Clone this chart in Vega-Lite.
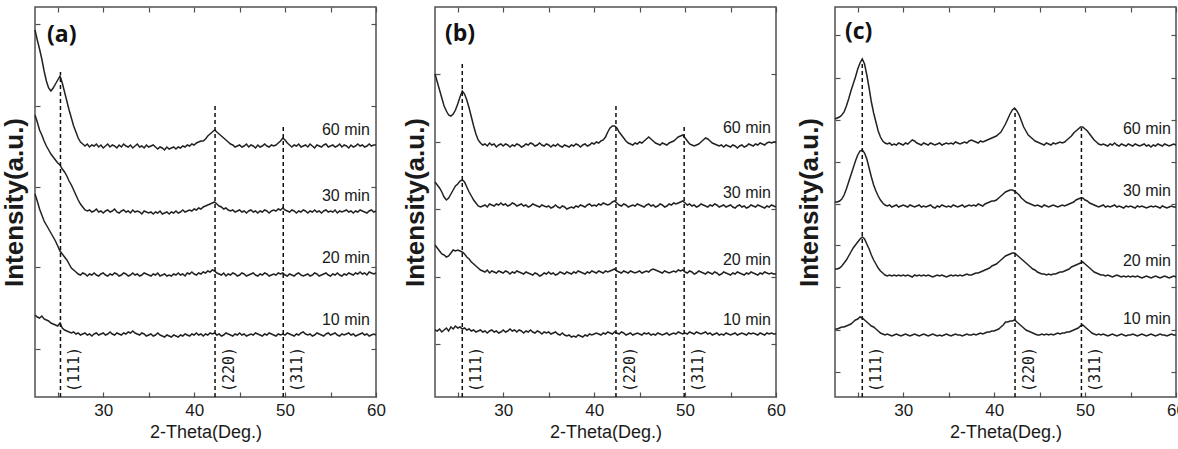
{
  "$schema": "https://vega.github.io/schema/vega-lite/v6.json",
  "padding": {"left": 0, "top": 5, "right": 5, "bottom": 0},
  "background": "white",
  "spacing": 59,
  "bounds": "flush",
  "config": {
    "view": {"stroke": "#505050", "strokeWidth": 1.5},
    "axis": {
      "domain": false, "grid": false, "ticks": true,
      "tickColor": "#505050", "tickSize": -5, "tickWidth": 1.2,
      "labelFont": "Liberation Sans", "labelFontSize": 17, "labelColor": "#1a1a1a", "labelPadding": 10,
      "titleFont": "Liberation Sans", "titleFontSize": 18, "titleFontWeight": "normal", "titleColor": "#1a1a1a"
    },
    "axisX": {"labelFlush": false, "titlePadding": 5},
    "axisY": {"titleFont": "Liberation Sans", "titleFontSize": 26, "titleFontWeight": "bold", "titlePadding": 7},
    "title": {"font": "Open Sans", "fontSize": 23, "fontWeight": "bold", "color": "#111"}
  },
  "datasets": {
    "scans": [
      {"panel": "a",
       "x": [22.5,22.75,23,23.25,23.5,23.75,24,24.25,24.5,24.75,25,25.25,25.5,25.75,26,26.25,26.5,26.75,27,27.25,27.5,27.75,28,28.25,28.5,28.75,29,29.25,29.5,29.75,30,30.25,30.5,30.75,31,31.25,31.5,31.75,32,32.25,32.5,32.75,33,33.25,33.5,33.75,34,34.25,34.5,34.75,35,35.25,35.5,35.75,36,36.25,36.5,36.75,37,37.25,37.5,37.75,38,38.25,38.5,38.75,39,39.25,39.5,39.75,40,40.25,40.5,40.75,41,41.25,41.5,41.75,42,42.25,42.5,42.75,43,43.25,43.5,43.75,44,44.25,44.5,44.75,45,45.25,45.5,45.75,46,46.25,46.5,46.75,47,47.25,47.5,47.75,48,48.25,48.5,48.75,49,49.25,49.5,49.75,50,50.25,50.5,50.75,51,51.25,51.5,51.75,52,52.25,52.5,52.75,53,53.25,53.5,53.75,54,54.25,54.5,54.75,55,55.25,55.5,55.75,56,56.25,56.5,56.75,57,57.25,57.5,57.75,58,58.25,58.5,58.75,59,59.25,59.5,59.75,60],
       "10 min": [82,80,79,81,78,77,76,74,73,72,71,74,69,67,66,65,64,65,63,64,62,63,64,62,63,61,63,64,62,63,64,62,63,65,63,62,64,63,62,64,63,65,64,66,64,63,62,64,63,61,62,63,61,62,64,62,61,60,62,61,60,62,61,60,62,61,63,62,61,63,62,64,62,63,61,63,62,64,63,64,62,63,61,62,64,63,62,61,63,62,64,62,63,61,62,63,62,64,63,62,61,63,62,64,63,62,61,63,62,63,62,64,63,62,61,63,62,64,65,63,62,63,61,62,64,63,62,61,63,64,62,63,64,62,61,63,62,63,64,62,63,61,62,63,64,62,63,61,62,63,62],
       "20 min": [203,196,188,182,176,172,168,164,160,156,151,146,143,140,137,133,129,127,125,123,122,124,123,121,123,122,124,122,121,123,124,122,121,123,122,124,123,121,122,124,123,121,122,124,122,123,121,122,124,123,122,121,123,122,124,121,122,123,121,122,121,123,122,124,122,123,121,124,123,125,123,122,124,123,125,124,126,125,127,126,124,123,122,124,121,123,122,124,123,121,122,124,123,121,122,123,124,122,121,123,122,124,123,121,122,123,122,124,123,124,122,121,123,122,121,123,124,122,121,122,123,121,122,124,123,121,122,123,124,122,121,123,122,124,122,121,123,122,124,123,122,124,123,125,123,124,122,125,124,123,124],
       "30 min": [282,275,267,262,256,251,247,243,240,237,234,232,228,225,221,216,212,207,202,197,193,190,187,186,187,185,186,188,185,186,184,186,187,185,186,188,185,184,186,187,185,186,184,187,185,186,185,183,186,185,184,185,183,185,184,186,183,184,185,183,185,184,186,184,185,187,185,186,187,186,188,187,189,188,190,191,192,193,194,195,193,191,190,188,189,187,186,187,185,186,187,185,186,184,186,187,185,186,184,186,185,187,186,184,186,187,186,188,187,189,187,186,185,187,186,184,186,185,187,186,184,186,185,187,185,186,184,186,187,185,186,185,187,184,186,185,186,187,185,186,184,186,185,187,186,185,184,186,187,185,186],
       "60 min": [367,357,348,338,326,316,309,306,309,313,317,321,314,305,296,287,279,271,265,259,255,253,251,253,250,252,251,253,250,252,249,251,253,250,252,251,249,252,250,253,251,250,252,249,251,253,250,251,249,252,250,251,252,250,248,250,249,247,250,248,249,250,248,250,249,251,250,252,251,253,252,254,255,256,256,258,261,263,265,267,265,263,261,259,257,255,253,252,250,251,252,250,251,253,250,252,251,249,252,250,251,253,251,250,252,251,252,254,256,259,257,254,252,250,252,251,253,250,251,252,250,253,251,249,252,251,250,252,253,250,251,252,250,251,253,250,252,251,249,252,250,251,253,251,252,250,251,253,251,252,252]},
      {"panel": "b",
       "x": [22.5,22.75,23,23.25,23.5,23.75,24,24.25,24.5,24.75,25,25.25,25.5,25.75,26,26.25,26.5,26.75,27,27.25,27.5,27.75,28,28.25,28.5,28.75,29,29.25,29.5,29.75,30,30.25,30.5,30.75,31,31.25,31.5,31.75,32,32.25,32.5,32.75,33,33.25,33.5,33.75,34,34.25,34.5,34.75,35,35.25,35.5,35.75,36,36.25,36.5,36.75,37,37.25,37.5,37.75,38,38.25,38.5,38.75,39,39.25,39.5,39.75,40,40.25,40.5,40.75,41,41.25,41.5,41.75,42,42.25,42.5,42.75,43,43.25,43.5,43.75,44,44.25,44.5,44.75,45,45.25,45.5,45.75,46,46.25,46.5,46.75,47,47.25,47.5,47.75,48,48.25,48.5,48.75,49,49.25,49.5,49.75,50,50.25,50.5,50.75,51,51.25,51.5,51.75,52,52.25,52.5,52.75,53,53.25,53.5,53.75,54,54.25,54.5,54.75,55,55.25,55.5,55.75,56,56.25,56.5,56.75,57,57.25,57.5,57.75,58,58.25,58.5,58.75,59,59.25,59.5,59.75,60],
       "10 min": [67,66,68,65,67,69,66,70,68,71,69,70,68,69,67,68,66,67,65,66,67,65,66,64,66,67,65,66,64,65,67,65,66,68,66,67,65,67,66,64,66,65,67,65,64,66,65,63,65,64,65,63,64,65,63,62,64,62,61,62,60,61,60,62,61,60,62,61,63,62,63,64,63,62,64,63,65,64,63,65,64,63,65,64,62,63,64,62,63,64,63,62,64,63,64,62,63,62,64,63,62,63,64,62,63,64,63,65,64,63,64,63,65,64,63,65,64,63,64,65,63,64,62,63,64,62,63,62,64,63,62,63,64,62,63,64,63,62,64,63,64,63,62,64,63,62,64,63,64,63,63],
       "20 min": [152,149,146,143,142,140,141,144,147,146,147,146,145,143,140,138,135,133,131,129,127,126,125,127,124,126,125,124,126,125,124,126,125,123,125,124,126,125,124,123,125,124,123,122,124,123,121,122,124,123,125,123,124,122,123,125,124,123,125,124,123,125,124,126,125,124,123,125,124,126,125,124,126,125,124,126,125,126,127,128,126,125,124,126,125,124,126,125,124,125,126,124,125,126,125,127,128,127,126,125,124,126,125,124,125,126,125,127,126,127,125,124,126,125,123,124,126,125,124,123,125,124,123,125,124,122,123,125,124,123,122,124,123,125,124,123,122,124,123,125,124,123,122,124,123,125,124,123,124,123,123],
       "30 min": [215,212,209,205,200,197,199,203,207,211,213,216,217,215,210,205,201,197,194,191,190,191,192,190,193,192,191,193,192,194,192,193,191,192,194,193,191,192,193,191,192,190,191,193,192,191,190,192,191,190,191,189,190,192,190,189,191,190,188,189,190,189,191,190,192,191,190,192,193,191,192,191,193,192,194,193,192,193,195,196,194,192,191,193,192,190,191,192,191,193,192,191,190,192,193,191,192,190,191,193,192,190,191,193,192,194,193,194,195,196,194,192,193,191,192,190,191,193,192,191,190,192,191,193,192,190,191,192,190,191,192,190,189,191,192,190,191,189,190,192,191,190,192,191,190,189,191,190,192,191,190],
       "60 min": [323,315,307,299,291,286,282,281,283,287,293,300,306,303,297,289,280,271,263,257,254,252,253,251,254,252,253,250,252,253,251,253,252,250,252,251,253,252,250,251,253,252,254,253,251,252,254,252,251,253,252,250,252,251,253,251,250,252,251,250,252,251,253,252,250,252,253,251,252,254,253,255,254,256,257,260,265,269,271,271,269,265,262,259,256,254,253,252,254,253,255,254,256,258,260,258,256,254,253,252,254,253,252,254,255,256,258,260,261,262,259,256,253,252,251,252,253,255,257,259,258,256,254,253,252,251,252,250,252,251,250,252,251,249,251,252,250,251,253,252,251,253,252,254,253,252,254,255,254,255,255]},
      {"panel": "c",
       "x": [22.5,22.75,23,23.25,23.5,23.75,24,24.25,24.5,24.75,25,25.25,25.5,25.75,26,26.25,26.5,26.75,27,27.25,27.5,27.75,28,28.25,28.5,28.75,29,29.25,29.5,29.75,30,30.25,30.5,30.75,31,31.25,31.5,31.75,32,32.25,32.5,32.75,33,33.25,33.5,33.75,34,34.25,34.5,34.75,35,35.25,35.5,35.75,36,36.25,36.5,36.75,37,37.25,37.5,37.75,38,38.25,38.5,38.75,39,39.25,39.5,39.75,40,40.25,40.5,40.75,41,41.25,41.5,41.75,42,42.25,42.5,42.75,43,43.25,43.5,43.75,44,44.25,44.5,44.75,45,45.25,45.5,45.75,46,46.25,46.5,46.75,47,47.25,47.5,47.75,48,48.25,48.5,48.75,49,49.25,49.5,49.75,50,50.25,50.5,50.75,51,51.25,51.5,51.75,52,52.25,52.5,52.75,53,53.25,53.5,53.75,54,54.25,54.5,54.75,55,55.25,55.5,55.75,56,56.25,56.5,56.75,57,57.25,57.5,57.75,58,58.25,58.5,58.75,59,59.25,59.5,59.75,60],
       "10 min": [68,68,69,70,70,71,72,73,75,77,78,80,79,77,75,73,71,70,68,66,64,63,62,63,62,61,62,63,62,61,62,63,62,61,62,63,62,61,62,63,62,61,62,63,62,61,62,61,62,63,62,61,62,63,62,62,61,62,63,62,62,63,62,63,64,63,64,65,65,66,66,67,68,70,72,75,75,76,76,77,75,73,71,69,67,66,65,64,63,62,62,63,62,63,62,63,62,63,64,63,64,64,65,65,66,67,68,69,71,72,70,68,66,64,63,62,63,62,63,62,61,62,63,62,61,62,63,62,61,62,62,63,62,61,62,63,62,61,62,63,62,61,62,63,62,62,61,62,63,62,62],
       "20 min": [128,128,129,131,134,137,141,145,149,152,155,158,160,158,153,148,142,137,133,129,126,124,122,121,122,121,122,121,122,121,122,121,122,121,120,122,121,122,121,122,121,122,121,120,121,122,121,122,121,120,121,122,121,122,121,122,121,122,123,122,122,123,124,124,125,126,127,128,129,131,132,133,135,137,139,141,142,143,144,144,142,140,138,136,134,132,130,128,127,125,124,123,123,122,123,122,123,123,124,125,125,126,127,128,130,131,132,133,134,135,133,131,129,127,125,124,123,122,122,121,122,121,120,121,122,121,120,121,120,121,120,121,120,121,120,119,120,121,120,119,120,121,120,119,120,121,120,119,120,121,120],
       "30 min": [195,195,196,198,202,208,215,222,229,236,242,246,247,244,238,229,220,212,206,201,197,194,192,191,192,190,191,192,190,191,192,191,190,192,191,190,191,192,190,191,190,191,192,190,189,191,190,192,191,190,191,190,192,191,190,191,192,190,191,192,191,192,191,193,192,191,193,194,195,196,196,197,199,201,203,205,206,207,207,206,204,202,199,197,195,194,193,192,191,192,191,190,192,191,190,191,192,191,190,191,192,191,192,193,194,195,197,198,199,199,197,196,194,193,192,191,190,191,192,190,191,190,191,192,190,191,190,189,191,190,191,190,189,191,190,191,190,189,190,191,190,191,190,189,191,190,189,190,191,190,190],
       "60 min": [278,279,280,282,285,291,298,306,313,320,328,334,338,333,322,309,295,284,275,266,260,256,254,253,254,252,253,252,254,253,252,254,253,255,257,256,254,253,252,254,253,252,254,253,252,253,254,252,253,254,253,254,253,255,254,253,254,255,254,256,257,256,255,254,256,255,256,257,258,259,260,261,263,265,269,273,278,283,287,289,286,282,276,270,266,262,260,258,256,255,254,253,252,254,253,252,254,253,254,255,254,255,257,259,261,264,266,268,270,270,268,266,263,260,257,255,253,252,253,252,251,253,252,254,252,251,253,252,251,253,252,251,253,252,251,252,253,251,252,250,252,251,253,252,251,253,252,251,252,253,252]}
    ],
    "hkl": [
      {"panel": "a", "plane": "(111)", "x": 25.3, "base": 0, "top": 325},
      {"panel": "a", "plane": "(220)", "x": 42.3, "base": 0, "top": 292},
      {"panel": "a", "plane": "(311)", "x": 49.8, "base": 0, "top": 270},
      {"panel": "b", "plane": "(111)", "x": 25.5, "base": 0, "top": 333},
      {"panel": "b", "plane": "(220)", "x": 42.4, "base": 0, "top": 293},
      {"panel": "b", "plane": "(311)", "x": 49.9, "base": 0, "top": 272},
      {"panel": "c", "plane": "(111)", "x": 25.5, "base": 0, "top": 337},
      {"panel": "c", "plane": "(220)", "x": 42.3, "base": 0, "top": 288},
      {"panel": "c", "plane": "(311)", "x": 49.6, "base": 0, "top": 269}
    ]
  },
  "hconcat": [
    {
      "width": 341, "height": 390,
      "title": {"text": "(a)", "anchor": "start", "frame": "group", "baseline": "top", "offset": -20, "dx": 12, "dy": 21},
      "data": {"name": "scans"},
      "transform": [
        {"filter": "datum.panel === 'a'"},
        {"flatten": ["x", "10 min", "20 min", "30 min", "60 min"]},
        {"fold": ["10 min", "20 min", "30 min", "60 min"], "as": ["scan", "intensity"]}
      ],
      "layer": [
        {
          "mark": {"type": "line", "opacity": 0},
          "encoding": {
            "x": {"field": "x", "type": "quantitative", "scale": {"domain": [22.5, 60], "nice": false, "zero": false},
                  "axis": {"orient": "top", "values": [25, 30, 35, 40, 45, 50, 55, 60], "labels": false, "title": null}},
            "y": {"field": "intensity", "type": "quantitative", "scale": {"domain": [0, 390], "nice": false, "zero": false},
                  "axis": {"orient": "right", "values": [48, 130, 210, 291, 373], "labels": false, "title": null}},
            "detail": {"field": "scan", "type": "nominal"}
          }
        },
        {
          "mark": {"type": "line", "color": "#222", "strokeWidth": 1.5},
          "encoding": {
            "x": {"field": "x", "type": "quantitative", "scale": {"domain": [22.5, 60], "nice": false, "zero": false},
                  "axis": {"orient": "bottom", "values": [25, 30, 35, 40, 45, 50, 55, 60], "labelExpr": "datum.value % 10 === 0 ? datum.label : ''", "title": "2-Theta(Deg.)"}},
            "y": {"field": "intensity", "type": "quantitative", "scale": {"domain": [0, 390], "nice": false, "zero": false},
                  "axis": {"orient": "left", "values": [48, 130, 210, 291, 373], "labels": false, "title": "Intensity(a.u.)", "titlePadding": 7}},
            "detail": {"field": "scan", "type": "nominal"}
          }
        },
        {
          "data": {"name": "hkl"},
          "transform": [{"filter": "datum.panel === 'a'"}],
          "mark": {"type": "rule", "strokeDash": [4, 3], "color": "#111", "strokeWidth": 1.5},
          "encoding": {
            "x": {"field": "x", "type": "quantitative", "axis": null},
            "y": {"field": "base", "type": "quantitative", "axis": null},
            "y2": {"field": "top"}
          }
        },
        {
          "data": {"name": "hkl"},
          "transform": [{"filter": "datum.panel === 'a'"}],
          "mark": {"type": "text", "angle": 270, "align": "left", "baseline": "middle", "dx": 5, "dy": 14, "font": "DejaVu Sans Mono", "fontSize": 15, "color": "#1a1a1a"},
          "encoding": {
            "x": {"field": "x", "type": "quantitative", "axis": null},
            "y": {"field": "base", "type": "quantitative", "axis": null},
            "text": {"field": "plane", "type": "nominal"}
          }
        },
        {
          "transform": [{"filter": "datum.x === 60"}],
          "mark": {"type": "text", "align": "right", "baseline": "middle", "dx": -6, "dy": -15, "font": "Liberation Sans", "fontSize": 16, "color": "#1a1a1a"},
          "encoding": {
            "x": {"field": "x", "type": "quantitative", "axis": null},
            "y": {"field": "intensity", "type": "quantitative", "axis": null},
            "text": {"field": "scan", "type": "nominal"}
          }
        }
      ],
      "resolve": {"axis": {"x": "independent", "y": "independent"}}
    },
    {
      "width": 341, "height": 390,
      "title": {"text": "(b)", "anchor": "start", "frame": "group", "baseline": "top", "offset": -20, "dx": 10, "dy": 20},
      "data": {"name": "scans"},
      "transform": [
        {"filter": "datum.panel === 'b'"},
        {"flatten": ["x", "10 min", "20 min", "30 min", "60 min"]},
        {"fold": ["10 min", "20 min", "30 min", "60 min"], "as": ["scan", "intensity"]}
      ],
      "layer": [
        {
          "mark": {"type": "line", "opacity": 0},
          "encoding": {
            "x": {"field": "x", "type": "quantitative", "scale": {"domain": [22.5, 60], "nice": false, "zero": false},
                  "axis": {"orient": "top", "values": [25, 30, 35, 40, 45, 50, 55, 60], "labels": false, "title": null}},
            "y": {"field": "intensity", "type": "quantitative", "scale": {"domain": [0, 390], "nice": false, "zero": false},
                  "axis": {"orient": "right", "values": [53, 120, 188, 255, 323], "labels": false, "title": null}},
            "detail": {"field": "scan", "type": "nominal"}
          }
        },
        {
          "mark": {"type": "line", "color": "#222", "strokeWidth": 1.5},
          "encoding": {
            "x": {"field": "x", "type": "quantitative", "scale": {"domain": [22.5, 60], "nice": false, "zero": false},
                  "axis": {"orient": "bottom", "values": [25, 30, 35, 40, 45, 50, 55, 60], "labelExpr": "datum.value % 10 === 0 ? datum.label : ''", "title": "2-Theta(Deg.)"}},
            "y": {"field": "intensity", "type": "quantitative", "scale": {"domain": [0, 390], "nice": false, "zero": false},
                  "axis": {"orient": "left", "values": [53, 120, 188, 255, 323], "labels": false, "title": "Intensity(a.u.)", "titlePadding": 6}},
            "detail": {"field": "scan", "type": "nominal"}
          }
        },
        {
          "data": {"name": "hkl"},
          "transform": [{"filter": "datum.panel === 'b'"}],
          "mark": {"type": "rule", "strokeDash": [4, 3], "color": "#111", "strokeWidth": 1.5},
          "encoding": {
            "x": {"field": "x", "type": "quantitative", "axis": null},
            "y": {"field": "base", "type": "quantitative", "axis": null},
            "y2": {"field": "top"}
          }
        },
        {
          "data": {"name": "hkl"},
          "transform": [{"filter": "datum.panel === 'b'"}],
          "mark": {"type": "text", "angle": 270, "align": "left", "baseline": "middle", "dx": 5, "dy": 14, "font": "DejaVu Sans Mono", "fontSize": 15, "color": "#1a1a1a"},
          "encoding": {
            "x": {"field": "x", "type": "quantitative", "axis": null},
            "y": {"field": "base", "type": "quantitative", "axis": null},
            "text": {"field": "plane", "type": "nominal"}
          }
        },
        {
          "transform": [{"filter": "datum.x === 60"}],
          "mark": {"type": "text", "align": "right", "baseline": "middle", "dx": -5, "dy": -14, "font": "Liberation Sans", "fontSize": 16, "color": "#1a1a1a"},
          "encoding": {
            "x": {"field": "x", "type": "quantitative", "axis": null},
            "y": {"field": "intensity", "type": "quantitative", "axis": null},
            "text": {"field": "scan", "type": "nominal"}
          }
        }
      ],
      "resolve": {"axis": {"x": "independent", "y": "independent"}}
    },
    {
      "width": 341, "height": 390,
      "title": {"text": "(c)", "anchor": "start", "frame": "group", "baseline": "top", "offset": -19, "dx": 10, "dy": 19},
      "data": {"name": "scans"},
      "transform": [
        {"filter": "datum.panel === 'c'"},
        {"flatten": ["x", "10 min", "20 min", "30 min", "60 min"]},
        {"fold": ["10 min", "20 min", "30 min", "60 min"], "as": ["scan", "intensity"]}
      ],
      "layer": [
        {
          "mark": {"type": "line", "opacity": 0},
          "encoding": {
            "x": {"field": "x", "type": "quantitative", "scale": {"domain": [22.5, 60], "nice": false, "zero": false},
                  "axis": {"orient": "top", "values": [25, 30, 35, 40, 45, 50, 55, 60], "labels": false, "title": null}},
            "y": {"field": "intensity", "type": "quantitative", "scale": {"domain": [0, 390], "nice": false, "zero": false},
                  "axis": {"orient": "right", "values": [25, 67, 110, 152, 193, 235, 277, 319, 362], "labels": false, "title": null}},
            "detail": {"field": "scan", "type": "nominal"}
          }
        },
        {
          "mark": {"type": "line", "color": "#222", "strokeWidth": 1.5},
          "encoding": {
            "x": {"field": "x", "type": "quantitative", "scale": {"domain": [22.5, 60], "nice": false, "zero": false},
                  "axis": {"orient": "bottom", "values": [25, 30, 35, 40, 45, 50, 55, 60], "labelExpr": "datum.value % 10 === 0 ? datum.label : ''", "title": "2-Theta(Deg.)"}},
            "y": {"field": "intensity", "type": "quantitative", "scale": {"domain": [0, 390], "nice": false, "zero": false},
                  "axis": {"orient": "left", "values": [25, 67, 110, 152, 193, 235, 277, 319, 362], "labels": false, "title": "Intensity(a.u.)", "titlePadding": 12}},
            "detail": {"field": "scan", "type": "nominal"}
          }
        },
        {
          "data": {"name": "hkl"},
          "transform": [{"filter": "datum.panel === 'c'"}],
          "mark": {"type": "rule", "strokeDash": [4, 3], "color": "#111", "strokeWidth": 1.5},
          "encoding": {
            "x": {"field": "x", "type": "quantitative", "axis": null},
            "y": {"field": "base", "type": "quantitative", "axis": null},
            "y2": {"field": "top"}
          }
        },
        {
          "data": {"name": "hkl"},
          "transform": [{"filter": "datum.panel === 'c'"}],
          "mark": {"type": "text", "angle": 270, "align": "left", "baseline": "middle", "dx": 5, "dy": 14, "font": "DejaVu Sans Mono", "fontSize": 15, "color": "#1a1a1a"},
          "encoding": {
            "x": {"field": "x", "type": "quantitative", "axis": null},
            "y": {"field": "base", "type": "quantitative", "axis": null},
            "text": {"field": "plane", "type": "nominal"}
          }
        },
        {
          "transform": [{"filter": "datum.x === 60"}],
          "mark": {"type": "text", "align": "right", "baseline": "middle", "dx": -5, "dy": -16, "font": "Liberation Sans", "fontSize": 16, "color": "#1a1a1a"},
          "encoding": {
            "x": {"field": "x", "type": "quantitative", "axis": null},
            "y": {"field": "intensity", "type": "quantitative", "axis": null},
            "text": {"field": "scan", "type": "nominal"}
          }
        }
      ],
      "resolve": {"axis": {"x": "independent", "y": "independent"}}
    }
  ]
}
